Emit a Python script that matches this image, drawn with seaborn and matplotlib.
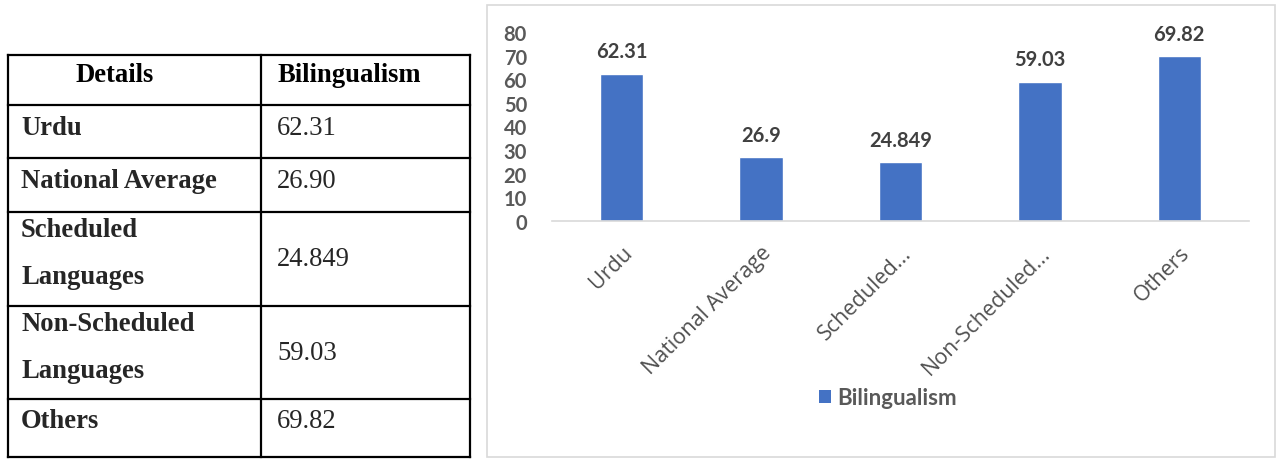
import matplotlib
matplotlib.use("Agg")
import matplotlib.pyplot as plt
import seaborn as sns
import pandas as pd
from matplotlib.patches import Rectangle, Patch

# ---- data ----
categories = ["Urdu", "National Average", "Scheduled Languages",
              "Non-Scheduled Languages", "Others"]
tick_labels = ["Urdu", "National Average", "Scheduled...",
               "Non-Scheduled...", "Others"]
values = [62.31, 26.90, 24.849, 59.03, 69.82]
table_values = ["62.31", "26.90", "24.849", "59.03", "69.82"]
table_rows = ["Urdu", "National Average", "Scheduled\nLanguages",
              "Non-Scheduled\nLanguages", "Others"]
series_name = "Bilingualism"
header = ["Details", "Bilingualism"]
y_ticks = [0, 10, 20, 30, 40, 50, 60, 70, 80]

BAR = "#4472C4"
TXT = "#595959"
LBL = "#404040"

sns.set_theme(style="white")
plt.rcParams["font.family"] = ["Lato", "DejaVu Sans"]

W, H = 1280, 460
fig = plt.figure(figsize=(W / 100, H / 100), dpi=100)

# overlay in pixel coordinates for the table and the chart frame
ov = fig.add_axes([0, 0, 1, 1])
ov.set_xlim(0, W)
ov.set_ylim(H, 0)
ov.axis("off")

# chart frame
ov.add_patch(Rectangle((486.5, 5.5), 788, 452.5, fill=False,
                       edgecolor="#D9D9D9", linewidth=1.2))

# ---- table ----
tx0, tx1, tx2 = 8, 261, 470
row_edges = [56, 106, 159, 213, 307, 400, 458]
lw = 1.6
for y in row_edges:
    ov.plot([tx0, tx2], [y, y], color="black", linewidth=lw,
            solid_capstyle="projecting")
for x in (tx0, tx1, tx2):
    ov.plot([x, x], [row_edges[0], row_edges[-1]], color="black",
            linewidth=lw, solid_capstyle="projecting")

serif = ["Liberation Serif", "DejaVu Serif"]
fs_tab = 19.2
hy = 76
ov.text(75, hy, header[0], ha="left", va="center",
        fontsize=fs_tab, fontweight="bold", family=serif, color="black")
ov.text(tx1 + 16, hy, header[1], ha="left", va="center",
        fontsize=fs_tab, fontweight="bold", family=serif, color="black")

row_text_y = [129, 182, None, None, 422]
for i, (name, val) in enumerate(zip(table_rows, table_values)):
    top, bot = row_edges[i + 1], row_edges[i + 2]
    if "\n" in name:
        first, second = name.split("\n")
        ov.text(tx0 + 13, top + 18, first, ha="left", va="center",
                fontsize=fs_tab, fontweight="bold", family=serif)
        ov.text(tx0 + 13, top + 65, second, ha="left", va="center",
                fontsize=fs_tab, fontweight="bold", family=serif)
        vy = (top + bot) / 2
    else:
        vy = row_text_y[i]
        ov.text(tx0 + 13, vy, name, ha="left", va="center",
                fontsize=fs_tab, fontweight="bold", family=serif)
    ov.text(tx1 + 16, vy, val, ha="left", va="center",
            fontsize=fs_tab, family=serif)

# ---- bar chart ----
df = pd.DataFrame({"Details": categories, series_name: values})
ax = fig.add_axes([552 / W, 1 - 222 / H, 697 / W, 189 / H])
sns.barplot(data=df, x="Details", y=series_name, color=BAR, width=0.31,
            saturation=1, ax=ax)
ax.set_xlim(-0.5, len(categories) - 0.5)
ax.set_ylim(0, 80)
ax.set_yticks(y_ticks)
ax.set_yticklabels([str(t) for t in y_ticks], fontsize=14.5,
                   fontweight="bold", color=TXT)
ax.set_xticks(range(len(categories)))
ax.set_xticklabels(tick_labels, rotation=45, ha="right",
                   rotation_mode="anchor", fontsize=15.5, color="#505050",
                   family=["Open Sans", "DejaVu Sans"])
ax.tick_params(axis="x", length=0, pad=15)
ax.tick_params(axis="y", length=0, pad=18)
ax.set_xlabel("")
ax.set_ylabel("")
for s in ("top", "right", "left"):
    ax.spines[s].set_visible(False)
ax.spines["bottom"].set_color("#D9D9D9")
ax.spines["bottom"].set_linewidth(1.2)
ax.patch.set_alpha(0)

for cont in ax.containers:
    ax.bar_label(cont, labels=[f"{v:g}" for v in values], padding=9,
                 fontsize=14.5, fontweight="bold", color=LBL)
for t in ax.texts:
    t.set_clip_on(False)

handle = Patch(facecolor=BAR, edgecolor="none")
fig.legend([handle], [series_name], loc="center",
           bbox_to_anchor=(888 / W, 1 - 399 / H), frameon=False,
           handlelength=0.55, handleheight=0.55, handletextpad=0.3,
           prop={"size": 16, "weight": "bold"}, labelcolor=TXT)

fig.savefig("out.png", dpi=100)
